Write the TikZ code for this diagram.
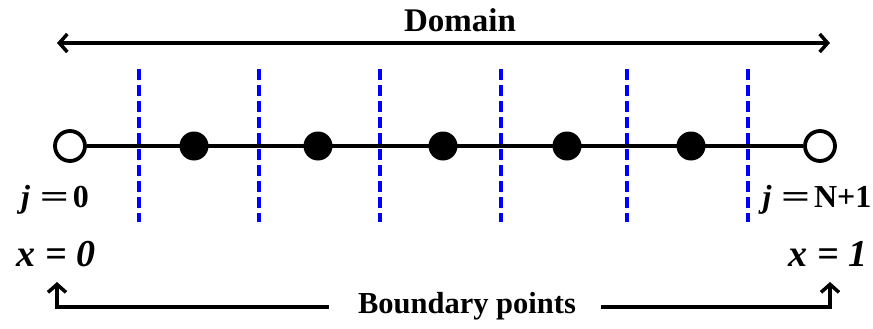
\documentclass[tikz,border=0pt]{standalone}
\usepackage{fontspec}
\setmainfont{Liberation Serif}
\usetikzlibrary{arrows.meta}

\newcommand{\wideeq}{\hspace{0.3em}\scalebox{1.6}[1]{=}\hspace{0.12em}}

\tikzset{
    barb/.tip={Straight Barb[length=8pt,width=18pt,line width=3.5pt]},
    arr/.style={line width=3.5pt, -barb},
    open pt/.style={circle, draw, line width=3.8pt, fill=white, minimum size=30pt, inner sep=0pt},
    grid pt/.style={circle, fill=black, minimum size=29pt, inner sep=0pt},
    cell/.style={blue, line width=4pt, dash pattern=on 11pt off 5pt},
    jlabel/.style={font=\fontsize{32}{32}\selectfont\bfseries},
    xlabel/.style={font=\fontsize{38}{38}\selectfont\bfseries\itshape},
}

\begin{document}
\begin{tikzpicture}[x=1pt, y=-1pt]
    \useasboundingbox (0, 0) rectangle (873, 329);

    % domain arrow
    \coordinate (dl) at (57, 43);
    \coordinate (dr) at (830, 43);
    \draw [line width=3.5pt, barb-barb] (dl) -- (dr);
    \node (domain) at (460, 20) {\fontsize{33}{33}\selectfont\bfseries Domain};

    % cell faces
    \foreach \xf in {139, 259, 380, 501, 627, 748}
        \draw [cell] (\xf, 69) -- (\xf, 222);

    % grid
    \node [open pt] (b0) at (70, 146) {};
    \node [open pt] (b1) at (820, 146) {};
    \draw [line width=3.3pt] (b0) -- (b1);
    \foreach \xp [count=\i] in {194, 318, 443, 567, 691}
        \node [grid pt] (p\i) at (\xp, 146) {};

    \node [jlabel] (j0) at (55, 200) {\textit{j}\wideeq 0};
    \node [jlabel] (jn) at (817, 200) {\textit{j}\wideeq N+1};
    \node [xlabel] (x0) at (56, 254) {x = 0};
    \node [xlabel] (x1) at (828, 254) {x = 1};

    % boundary arrows
    \node (bp) at (467, 306) {\fontsize{30.5}{30.5}\selectfont\bfseries Boundary points};
    \coordinate (bl) at (57, 307);
    \coordinate (br) at (830, 307);
    \draw [arr] ([xshift=-26pt]bp.west |- bl) -- (bl) -- ++(0, -25);
    \draw [arr] ([xshift=22pt]bp.east |- br) -- (br) -- ++(0, -25);
\end{tikzpicture}
\end{document}
